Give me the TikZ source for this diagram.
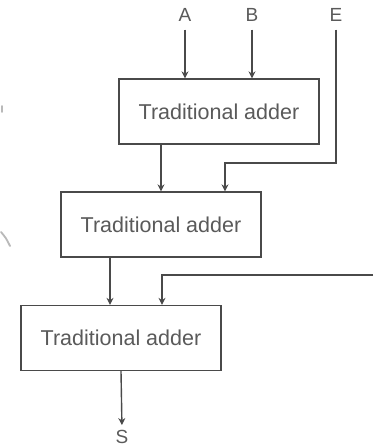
\documentclass[tikz,border=0pt]{standalone}
\usepackage{fontspec}
\setmainfont{Liberation Sans}
\usetikzlibrary{calc,arrows.meta}
\definecolor{ink}{HTML}{4A4A4A}
\definecolor{txt}{HTML}{5A5A5A}
\tikzset{
  adder/.style={draw=ink, line width=1.3pt, minimum width=200pt, minimum height=65pt,
    inner sep=0pt, font=\fontsize{21.5}{24}\selectfont, text=txt},
  sig/.style={font=\fontsize{19}{22}\selectfont, text=txt, inner sep=1pt},
  arr/.style={draw=ink, line width=1.4pt, -{Stealth[length=7pt,width=7pt]}},
  smudge/.style={draw=gray!55, line width=1.8pt, line cap=round}
}
\begin{document}
\begin{tikzpicture}[x=1pt,y=-1pt]
  \useasboundingbox (0,0) rectangle (373,448);
  \fill[white] (0,0) rectangle (373,448);

  % three cascaded adders
  \node[adder] (b1) at (219,111.5) {Traditional adder};
  \node[adder] (b2) at (161,224.5) {Traditional adder};
  \node[adder] (b3) at (121,338)   {Traditional adder};

  % input and output labels
  \node[sig] (A) at (185,15) {A};
  \node[sig] (B) at (252,15) {B};
  \node[sig] (E) at (336,15) {E};
  \node[sig] (S) at (122,437) {S};

  % free end of the incoming wire on the right
  \coordinate (R) at (373,275);
  \coordinate (Eturn) at (336,163);

  % inputs of the first adder
  \draw[arr, shorten <=7pt] (A.south) -- (A.south |- b1.north);
  \draw[arr, shorten <=7pt] (B.south) -- (B.south |- b1.north);

  % second adder: sum of first adder and E
  \draw[arr] ($(b1.south)+(-58,0)$) -- (b2.north);
  \draw[arr, shorten <=7pt] (E.south) -- (Eturn) -| ($(b2.north)+(64,0)$);

  % third adder: sum of second adder and the wire from the right
  \draw[arr] ($(b2.south)+(-51,0)$) -- ($(b3.north)+(-11,0)$);
  \draw[arr] (R) -| ($(b3.north)+(41,0)$);

  % final output
  \draw[arr, shorten >=4pt] (b3.south) -- (S.north);

  % faint marks on the left edge
  \draw[smudge] (2,106) -- (2,112);
  \draw[smudge] (1,232) .. controls (6,238) .. (10,246);
\end{tikzpicture}
\end{document}
